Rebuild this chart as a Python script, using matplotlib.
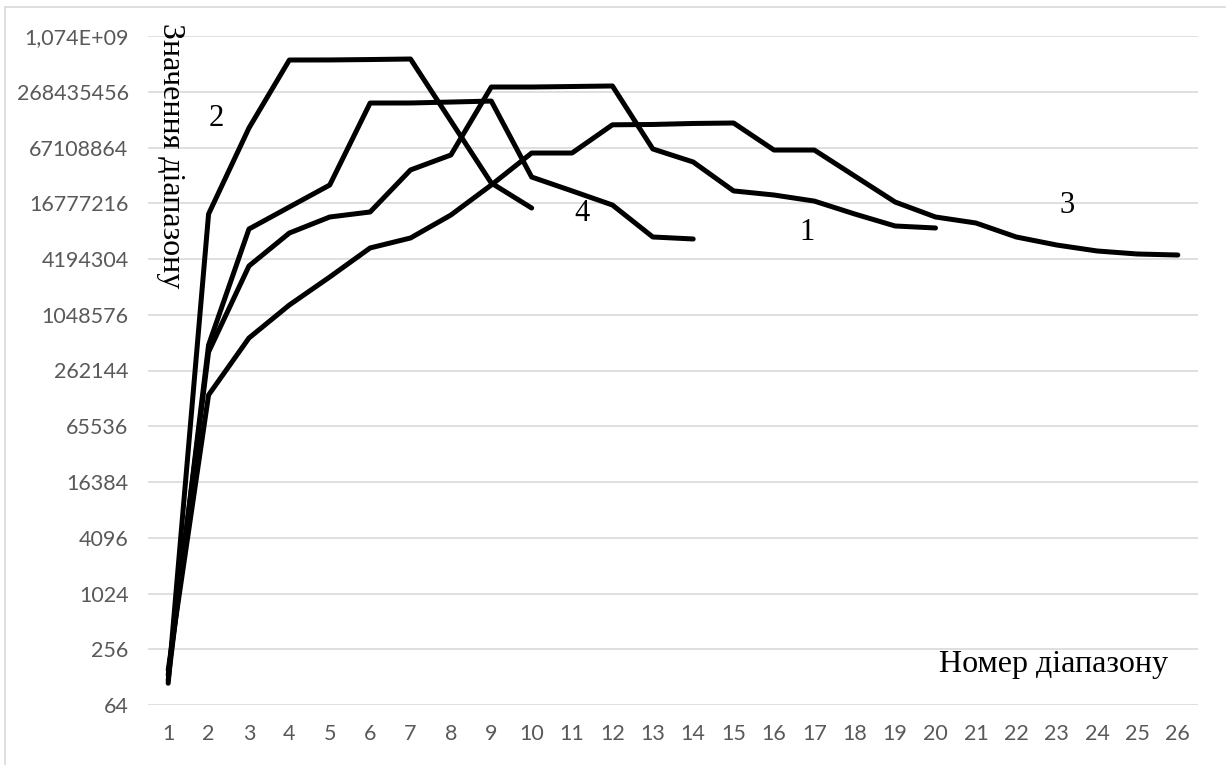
import matplotlib.pyplot as plt
from matplotlib.lines import Line2D

# Номери діапазонів для кожної кривої
x_2 = [1, 2, 3, 4, 5, 6, 7, 8, 9, 10]
x_4 = [1, 2, 3, 4, 5, 6, 7, 8, 9, 10, 11, 12, 13, 14]
x_1 = [1, 2, 3, 4, 5, 6, 7, 8, 9, 10, 11, 12, 13, 14, 15, 16, 17, 18, 19, 20]
x_3 = [1, 2, 3, 4, 5, 6, 7, 8, 9, 10, 11, 12, 13, 14, 15, 16, 17, 18, 19, 20,
       21, 22, 23, 24, 25, 26]

# Значення діапазонів
y_2 = [110, 12840000, 109000000, 591000000, 592000000, 598000000, 606000000,
       129700000, 27750000, 14900000]
y_4 = [119, 494000, 8840000, 15280000, 26400000, 202800000, 203000000,
       207800000, 213000000, 32200000, 22800000, 16060000, 7250000, 6900000]
y_1 = [135, 415500, 3525000, 8000000, 11920000, 13500000, 38400000, 55700000,
       302000000, 302000000, 305800000, 309900000, 64700000, 46800000,
       22800000, 20600000, 17700000, 12840000, 9530000, 9070000]
y_3 = [153, 142600, 588000, 1336000, 2680000, 5520000, 7070000, 12520000,
       26400000, 58500000, 58500000, 118000000, 119000000, 122000000,
       123400000, 63000000, 63000000, 33000000, 17300000, 11920000,
       10270000, 7250000, 5940000, 5120000, 4750000, 4630000]

categories = list(range(1, 27))
y_ticks = [64, 256, 1024, 4096, 16384, 65536, 262144, 1048576, 4194304,
           16777216, 67108864, 268435456, 1073741824]
y_tick_labels = ['64', '256', '1024', '4096', '16384', '65536', '262144',
                 '1048576', '4194304', '16777216', '67108864', '268435456',
                 '1,074E+09']

fig = plt.figure(figsize=(12.26, 7.65), dpi=100)
ax = fig.add_axes([148 / 1226, 1 - 705 / 765, 1050 / 1226, 669 / 765])

for xs, ys in [(x_1, y_1), (x_2, y_2), (x_3, y_3), (x_4, y_4)]:
    ax.plot(xs, ys, color='black', linewidth=3.6,
            solid_joinstyle='round', solid_capstyle='round', zorder=3)

ax.set_yscale('log', base=2)
ax.set_ylim(64, 2 ** 30)
ax.set_xlim(0.5, 26.5)
ax.set_yticks(y_ticks)
ax.set_yticklabels(y_tick_labels)
ax.minorticks_off()
ax.set_xticks(categories)
ax.set_xticklabels([str(c) for c in categories])

ax.grid(axis='y', color='#d9d9d9', linewidth=1.2)
ax.set_axisbelow(True)
for s in ax.spines.values():
    s.set_visible(False)
ax.tick_params(axis='both', length=0, labelsize=15.5, labelcolor='#595959')
ax.tick_params(axis='y', pad=14)
ax.tick_params(axis='x', pad=14)
for lbl in ax.get_xticklabels() + ax.get_yticklabels():
    lbl.set_family('Lato')

serif = 'Liberation Serif'
ax.text(0.021, 1.02, 'Значення діапазону', transform=ax.transAxes,
        rotation=-90, ha='center', va='top', fontsize=23, family=serif)
ax.text(0.971, 0.061, 'Номер діапазону', transform=ax.transAxes,
        ha='right', va='center', fontsize=23, family=serif)

# номери кривих
for txt, px, py in [('2', 0.0648, 0.877), ('4', 0.413, 0.735),
                    ('1', 0.628, 0.707), ('3', 0.875, 0.747)]:
    ax.text(px, py, txt, transform=ax.transAxes, ha='center', va='center',
            fontsize=22, family=serif)

# рамка області діаграми
fig.add_artist(Line2D([5 / 1226, 5 / 1226], [0, 1 - 7 / 765],
                      color='#d9d9d9', linewidth=1.2))
fig.add_artist(Line2D([5 / 1226, 1], [1 - 7 / 765, 1 - 7 / 765],
                      color='#d9d9d9', linewidth=1.2))

fig.savefig('out.png', dpi=100)
